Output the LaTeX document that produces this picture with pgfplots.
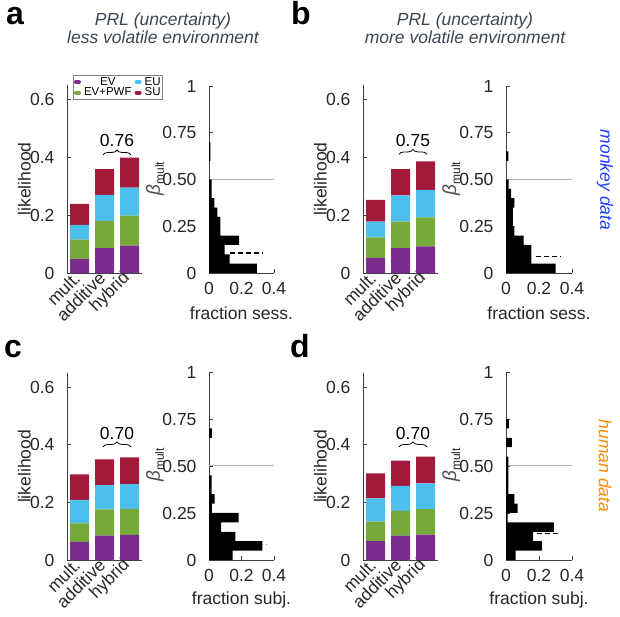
\documentclass[border=0pt]{standalone}
\usepackage{pgfplots}
\pgfplotsset{compat=1.18}
\usepackage{pgfplotstable}
\usepackage{fontspec}
\setmainfont{Liberation Sans}
\usetikzlibrary{decorations.pathreplacing}

\definecolor{cEV}{HTML}{7B2D8E}
\definecolor{cPWF}{HTML}{76A83A}
\definecolor{cEU}{HTML}{4DBFEC}
\definecolor{cSU}{HTML}{A3193A}
\definecolor{ctitle}{HTML}{3C4650}
\definecolor{cmonkey}{HTML}{1E3CFF}
\definecolor{chuman}{HTML}{FF8C00}

\newcommand{\fs}{\fontsize{17.5}{21}\selectfont}
\newcommand{\betalabel}{{\fontsize{19}{21}\selectfont\itshape\color{black!70}β}\raisebox{-4pt}{\fontsize{12}{13}\selectfont mult}}

% stacked bars: increments EV, EV+PWF, EU, SU
\pgfplotstableread{
x ev pwf eu su
1 0.048 0.067 0.051 0.073
2 0.086 0.094 0.090 0.089
3 0.095 0.103 0.097 0.104
}\barsA
\pgfplotstableread{
x ev pwf eu su
1 0.052 0.071 0.055 0.075
2 0.086 0.092 0.090 0.091
3 0.092 0.100 0.095 0.099
}\barsB
\pgfplotstableread{
x ev pwf eu su
1 0.063 0.064 0.082 0.089
2 0.085 0.091 0.084 0.090
3 0.087 0.091 0.086 0.093
}\barsC
\pgfplotstableread{
x ev pwf eu su
1 0.066 0.067 0.081 0.087
2 0.085 0.086 0.087 0.087
3 0.088 0.089 0.089 0.093
}\barsD

\pgfplotsset{
  panel/.style={
    scale only axis, axis lines*=left, clip=false,
    axis line style={black!75, line width=0.9pt},
    tick style={black!75, line width=0.9pt},
    tick align=inside, major tick length=4pt,
    ticklabel style={font=\fs, text=black!85},
    label style={font=\fs, text=black!85},
    /pgf/number format/assume math mode=true,
    yticklabel style={xshift=-9pt},
  },
  barpanel/.style={
    panel, width=75pt, height=188pt,
    xmin=0.5, xmax=3.5, ymin=0, ymax=0.65,
    xtick={1,2,3}, xticklabels={mult.,additive,hybrid},
    xticklabel style={rotate=45, anchor=east},
    ytick={0,0.2,0.4,0.6}, yticklabels={0,0.2,0.4,0.6},
    ylabel={likelihood},
    ylabel style={at={(axis description cs:-0.57,0.5)}, anchor=center},
    ybar stacked, bar width=19pt,
  },
  histpanel/.style={
    panel, width=65pt, height=187pt,
    xmin=0, xmax=0.4, ymin=0, ymax=1,
    xtick={0,0.2,0.4}, xticklabels={0,0.2,0.4},
    xticklabel style={yshift=-6pt},
    ytick={0,0.25,0.5,0.75,1}, yticklabels={0,0.25,0.50,0.75,1},
    ylabel={\betalabel},
    ylabel style={at={(axis description cs:-0.83,0.505)}, anchor=center},
    xlabel style={at={(axis description cs:0.5,-0.214)}, anchor=center},
  },
  sEV/.style={fill=cEV, draw=none},
  sPWF/.style={fill=cPWF, draw=none},
  sEU/.style={fill=cEU, draw=none},
  sSU/.style={fill=cSU, draw=none},
  hbar/.style={xbar, bar width=0.05, bar shift=0pt, fill=black, draw=none},
}

\begin{document}
\begin{tikzpicture}
\path[use as bounding box] (0,0) rectangle (620pt,617pt);

% ---------- a ----------
\begin{axis}[barpanel, at={(67pt,344pt)},
  legend style={at={(axis description cs:0.076,1.053)}, anchor=north west,
    font=\fontsize{11.5}{12}\selectfont, draw=black!50, line width=0.6pt,
    legend columns=2, transpose legend, inner sep=1pt,
    nodes={inner sep=1pt}, column sep=2pt, row sep=-1pt}]
\addplot[sEV, legend image code/.code={\draw[cEV,line width=4pt,line cap=round] (0pt,0pt) -- (3pt,0pt);}] table[x=x,y=ev]{\barsA};
\addlegendentry{EV}
\addplot[sPWF, legend image code/.code={\draw[cPWF,line width=4pt,line cap=round] (0pt,0pt) -- (3pt,0pt);}] table[x=x,y=pwf]{\barsA};
\addlegendentry{EV+PWF}
\addplot[sEU, legend image code/.code={\draw[cEU,line width=4pt,line cap=round] (0pt,0pt) -- (3pt,0pt);}] table[x=x,y=eu]{\barsA};
\addlegendentry{EU}
\addplot[sSU, legend image code/.code={\draw[cSU,line width=4pt,line cap=round] (0pt,0pt) -- (3pt,0pt);}] table[x=x,y=su]{\barsA};
\addlegendentry{SU}
\draw[decorate, decoration={brace, amplitude=5pt}, line width=0.8pt] (axis cs:1.94,0.408) -- (axis cs:3.06,0.408);
\node[font=\fs, anchor=base] at (axis cs:2.5,0.438) {0.76};
\end{axis}

\begin{axis}[histpanel, at={(209pt,344pt)}, xlabel={fraction sess.}]
\addplot[black!30, line width=1pt] coordinates {(0,0.5) (0.4,0.5)};
\addplot[black, dash pattern=on 5pt off 3pt, line width=1.1pt] coordinates {(0.13,0.107) (0.335,0.107)};
\addplot[hbar] coordinates {
(0.295,0.025) (0.127,0.075) (0.096,0.125) (0.185,0.175) (0.070,0.225) (0.070,0.275)
(0.051,0.325) (0.033,0.375) (0.016,0.425) (0.016,0.475) (0.008,0.625) (0.008,0.675)};
\end{axis}

% ---------- b ----------
\begin{axis}[barpanel, at={(363pt,344pt)}]
\addplot[sEV] table[x=x,y=ev]{\barsB};
\addplot[sPWF] table[x=x,y=pwf]{\barsB};
\addplot[sEU] table[x=x,y=eu]{\barsB};
\addplot[sSU] table[x=x,y=su]{\barsB};
\draw[decorate, decoration={brace, amplitude=5pt}, line width=0.8pt] (axis cs:1.94,0.41) -- (axis cs:3.06,0.41);
\node[font=\fs, anchor=base] at (axis cs:2.5,0.437) {0.75};
\end{axis}

\begin{axis}[histpanel, at={(506pt,344pt)}, width=66pt, xlabel={fraction sess.}]
\addplot[black!30, line width=1pt] coordinates {(0,0.5) (0.4,0.5)};
\addplot[black, dash pattern=on 5pt off 3pt, line width=1.1pt] coordinates {(0.18,0.09) (0.326,0.09)};
\addplot[hbar] coordinates {
(0.300,0.025) (0.154,0.075) (0.154,0.125) (0.107,0.175) (0.051,0.225) (0.041,0.275)
(0.041,0.325) (0.051,0.375) (0.031,0.425) (0.016,0.475) (0.015,0.625)};
\end{axis}

% ---------- c ----------
\begin{axis}[barpanel, at={(67pt,57pt)}, height=187pt]
\addplot[sEV] table[x=x,y=ev]{\barsC};
\addplot[sPWF] table[x=x,y=pwf]{\barsC};
\addplot[sEU] table[x=x,y=eu]{\barsC};
\addplot[sSU] table[x=x,y=su]{\barsC};
\draw[decorate, decoration={brace, amplitude=5pt}, line width=0.8pt] (axis cs:1.94,0.393) -- (axis cs:3.06,0.393);
\node[font=\fs, anchor=base] at (axis cs:2.5,0.42) {0.70};
\end{axis}

\begin{axis}[histpanel, at={(209pt,57pt)}, height=188pt, xlabel={fraction subj.}]
\addplot[black!30, line width=1pt] coordinates {(0,0.5) (0.4,0.5)};
\addplot[black!40, dash pattern=on 5pt off 3pt, line width=1.1pt] coordinates {(0.2,0.083) (0.35,0.083)};
\addplot[hbar] coordinates {
(0.146,0.025) (0.329,0.075) (0.162,0.125) (0.075,0.175) (0.183,0.225) (0.018,0.275)
(0.035,0.325) (0.016,0.375) (0.016,0.425) (0.018,0.675)};
\end{axis}

% ---------- d ----------
\begin{axis}[barpanel, at={(363pt,57pt)}, height=187pt]
\addplot[sEV] table[x=x,y=ev]{\barsD};
\addplot[sPWF] table[x=x,y=pwf]{\barsD};
\addplot[sEU] table[x=x,y=eu]{\barsD};
\addplot[sSU] table[x=x,y=su]{\barsD};
\draw[decorate, decoration={brace, amplitude=5pt}, line width=0.8pt] (axis cs:1.94,0.393) -- (axis cs:3.06,0.393);
\node[font=\fs, anchor=base] at (axis cs:2.5,0.42) {0.70};
\end{axis}

\begin{axis}[histpanel, at={(506pt,57pt)}, width=66pt, height=188pt, xlabel={fraction subj.}]
\addplot[black!30, line width=1pt] coordinates {(0,0.5) (0.4,0.5)};
\addplot[black, dash pattern=on 5pt off 3pt, line width=1.1pt] coordinates {(0.186,0.14) (0.327,0.14)};
\addplot[hbar] coordinates {
(0.058,0.025) (0.218,0.075) (0.164,0.125) (0.290,0.175) (0.010,0.225) (0.070,0.275)
(0.050,0.325) (0.014,0.375) (0.014,0.425) (0.014,0.475) (0.014,0.525) (0.036,0.625) (0.018,0.725)};
\end{axis}

% ---------- panel letters, titles, side labels ----------
\node[anchor=base, font=\fontsize{32}{36}\selectfont\bfseries] at (15pt,592pt) {a};
\node[anchor=base, font=\fontsize{32}{36}\selectfont\bfseries] at (301pt,592pt) {b};
\node[anchor=base, font=\fontsize{32}{36}\selectfont\bfseries] at (13pt,259pt) {c};
\node[anchor=base, font=\fontsize{32}{36}\selectfont\bfseries] at (300pt,259pt) {d};

\node[anchor=base, align=center, font=\fontsize{17.5}{18}\selectfont\itshape, text=ctitle] at (163pt,573.5pt) {PRL (uncertainty)\\less volatile environment};
\node[anchor=base, align=center, font=\fontsize{17.5}{18}\selectfont\itshape, text=ctitle] at (465pt,573.5pt) {PRL (uncertainty)\\more volatile environment};

\node[rotate=-90, font=\fs\itshape, text=cmonkey] at (605pt,437pt) {monkey data};
\node[rotate=-90, font=\fs\itshape, text=chuman] at (605pt,151pt) {human data};
\end{tikzpicture}
\end{document}
